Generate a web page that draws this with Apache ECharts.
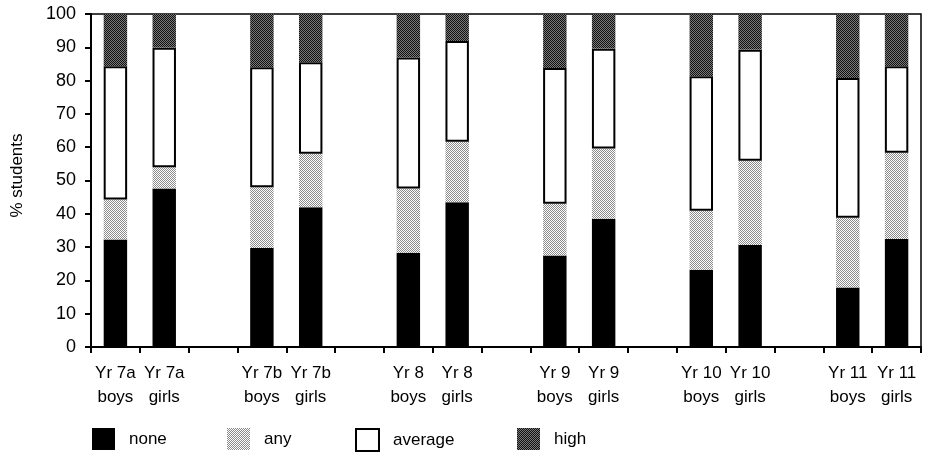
<!DOCTYPE html>
<html>
<head>
<meta charset="utf-8">
<script src="https://cdn.jsdelivr.net/npm/echarts@6/dist/echarts.min.js"></script>
<style>html,body{margin:0;padding:0;background:#fff}#c{width:925px;height:456px}</style>
</head>
<body>
<div id="c"></div>
<script>
// Groups (each pair: boys, girls), separated by blank slots on the axis
const groups = ['Yr 7a', 'Yr 7b', 'Yr 8', 'Yr 9', 'Yr 10', 'Yr 11'];
const sexes = ['boys', 'girls'];
// Segment values (% students), in order: 7a boys, 7a girls, 7b boys, 7b girls, ...
const none    = [32.3, 47.6, 29.7, 42.0, 28.3, 43.5, 27.5, 38.5, 23.2, 30.6, 17.9, 32.4];
const anyVal  = [12.0,  6.4, 18.3, 16.0, 19.3, 18.1, 15.5, 21.1, 17.7, 25.3, 20.9, 25.9];
const average = [40.0, 35.9, 36.0, 27.5, 39.3, 30.3, 40.8, 30.0, 40.4, 33.4, 42.0, 26.0];
const high    = [15.7, 10.1, 16.0, 14.5, 13.1,  8.1, 16.2, 10.4, 18.7, 10.7, 19.2, 15.7];
const yTicks = [0, 10, 20, 30, 40, 50, 60, 70, 80, 90, 100];
const seriesNames = ['none', 'any', 'average', 'high'];

// Build axis slots: boys, girls, gap, boys, girls, gap, ...
const cats = [];
const slotIndex = [];
groups.forEach((g, gi) => {
  sexes.forEach(s => { slotIndex.push(cats.length); cats.push(g + '\n' + s); });
  if (gi < groups.length - 1) cats.push('_gap' + gi);
});
function expand(arr) {
  const out = cats.map(() => null);
  arr.forEach((v, i) => { out[slotIndex[i]] = v; });
  return out;
}
function pattern(c1, c2) {
  const cv = document.createElement('canvas');
  cv.width = 2; cv.height = 2;
  const ctx = cv.getContext('2d');
  ctx.fillStyle = c1; ctx.fillRect(0, 0, 2, 2);
  ctx.fillStyle = c2; ctx.fillRect(0, 0, 1, 1); ctx.fillRect(1, 1, 1, 1);
  return { image: cv, repeat: 'repeat' };
}
const styles = [
  { color: '#000' },
  { color: pattern('#ffffff', '#8a8a8a') },
  { color: '#fff', borderColor: '#000', borderWidth: 2 },
  { color: pattern('#7a7a7a', '#111111') }
];
const dataSets = [none, anyVal, average, high];
const font = 'Liberation Sans, Arial, sans-serif';
const legendLefts = [87, 222, 350, 512];

const chart = echarts.init(document.getElementById('c'), null, { renderer: 'canvas' });
chart.setOption({
  animation: false,
  backgroundColor: '#fff',
  grid: { left: 91, right: 4, top: 14, bottom: 109, show: true, borderColor: '#000', borderWidth: 1.5, containLabel: false },
  legend: seriesNames.map((n, i) => ({
    data: [n], left: legendLefts[i], top: 423, icon: 'rect',
    itemWidth: 23, itemHeight: 22,
    textStyle: { fontFamily: font, fontSize: 17, color: '#000', padding: [0, 0, 0, 9] },
    selectedMode: false
  })),
  xAxis: {
    type: 'category', data: cats, boundaryGap: true,
    axisLine: { lineStyle: { color: '#000', width: 2 } },
    axisTick: { show: true, interval: 0, length: 6, lineStyle: { color: '#000', width: 2 } },
    axisLabel: {
      interval: 0, margin: 14, fontFamily: font, fontSize: 17, color: '#000', lineHeight: 24,
      formatter: v => v.startsWith('_gap') ? '' : v
    },
    splitLine: { show: false }
  },
  yAxis: {
    type: 'value', min: 0, max: 100, interval: 10,
    name: '% students', nameLocation: 'middle', nameGap: 65, nameRotate: 90,
    nameTextStyle: { fontFamily: font, fontSize: 17, color: '#000', padding: [0, 0, 0, 10] },
    axisLine: { show: true, lineStyle: { color: '#000', width: 2 } },
    axisTick: { show: true, length: 6, lineStyle: { color: '#000', width: 2 } },
    axisLabel: { margin: 15, fontFamily: font, fontSize: 18, color: '#000',
      formatter: v => yTicks.includes(v) ? String(v) : '' },
    splitLine: { show: false }
  },
  series: seriesNames.map((n, i) => ({
    name: n, type: 'bar', stack: 'total', barWidth: '48%',
    data: expand(dataSets[i]),
    itemStyle: styles[i],
    emphasis: { disabled: true }
  }))
});
</script>
</body>
</html>
